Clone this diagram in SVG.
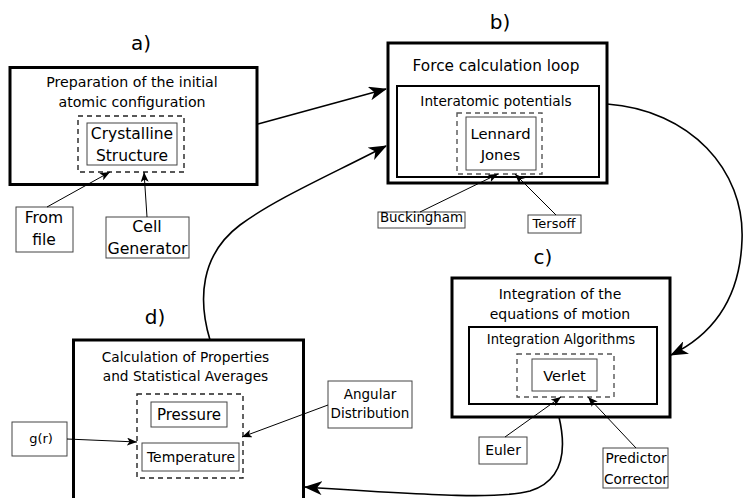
<svg xmlns="http://www.w3.org/2000/svg" width="743" height="498" viewBox="0 0 743 498" font-size="14">
<style>
text{font-family:"DejaVu Sans","Liberation Sans",sans-serif;fill:#000;text-anchor:middle}
.lbl{font-size:20px}
.outer{fill:none;stroke:#000;stroke-width:3}
.inner{fill:none;stroke:#000;stroke-width:2}
.dash{fill:none;stroke:#222;stroke-width:1.4;stroke-dasharray:5,4}
.dashg{fill:none;stroke:#555;stroke-width:1.4;stroke-dasharray:5,4}
.small{fill:#fff;stroke:#444;stroke-width:1}
.curve{fill:none;stroke:#000;stroke-width:1.6}
.thin{fill:none;stroke:#000;stroke-width:1}
</style>
<defs>
<marker id="big" viewBox="0 0 18 14" refX="17" refY="7" markerWidth="18" markerHeight="14" markerUnits="userSpaceOnUse" orient="auto">
<path d="M0,0 L18,7 L0,14 L5,7 z" fill="#000"/>
</marker>
<marker id="sm" viewBox="0 0 10 8" refX="10" refY="4" markerWidth="10" markerHeight="8" markerUnits="userSpaceOnUse" orient="auto">
<path d="M0,0 L10,4 L0,8 L2.5,4 z" fill="#000"/>
</marker>
</defs>

<g id="node-a">
<text class="lbl" x="141" y="50">a)</text>
<rect class="outer" x="10" y="67.5" width="247" height="117"/>
<text x="132" y="87" font-size="14.2">Preparation of the initial</text>
<text x="132" y="107" font-size="14.2">atomic configuration</text>
<rect class="dash" x="78" y="116" width="106" height="56"/>
<rect class="small" x="87" y="123" width="90" height="42"/>
<text x="132" y="139" font-size="15.5">Crystalline</text>
<text x="132" y="161" font-size="15.5">Structure</text>
</g>
<g id="node-fromfile">
<rect class="small" x="16" y="207" width="57" height="45"/>
<text x="44" y="223" font-size="15.5">From</text>
<text x="44" y="245" font-size="15.5">file</text>
</g>
<g id="node-cellgen">
<rect class="small" x="106" y="217" width="83" height="41"/>
<text x="147" y="232" font-size="15.8">Cell</text>
<text x="147.5" y="254" font-size="15.8">Generator</text>
</g>

<g id="node-b">
<text class="lbl" x="500" y="29">b)</text>
<rect class="outer" x="388" y="43" width="219" height="140"/>
<text x="496" y="71" font-size="15.3">Force calculation loop</text>
<rect class="inner" x="397" y="86" width="202" height="91"/>
<text x="496" y="106" font-size="13.7">Interatomic potentials</text>
<rect class="dashg" x="457" y="113" width="85" height="61"/>
<rect class="small" x="466" y="117" width="70" height="53"/>
<text x="500.5" y="139" font-size="14.8">Lennard</text>
<text x="500.5" y="160" font-size="14.8">Jones</text>
</g>
<g id="node-buckingham">
<rect class="small" x="378" y="212" width="87" height="16"/>
<text x="421.5" y="222" font-size="13.4">Buckingham</text>
</g>
<g id="node-tersoff">
<rect class="small" x="528" y="215" width="53" height="18"/>
<text x="554" y="228" font-size="13">Tersoff</text>
</g>

<g id="node-c">
<text class="lbl" x="543" y="264">c)</text>
<rect class="outer" x="452" y="278" width="218" height="139"/>
<text x="560" y="299">Integration of the</text>
<text x="560" y="319">equations of motion</text>
<rect class="inner" x="469" y="327" width="188" height="77"/>
<text x="561" y="344" font-size="13.2">Integration Algorithms</text>
<rect class="dashg" x="517" y="354" width="97" height="43"/>
<rect class="small" x="532" y="359" width="65" height="32"/>
<text x="564.5" y="381" font-size="14.6">Verlet</text>
</g>
<g id="node-euler">
<rect class="small" x="479" y="437" width="48" height="27"/>
<text x="503" y="455" font-size="13.9">Euler</text>
</g>
<g id="node-predictor">
<rect class="small" x="603" y="448" width="65" height="40"/>
<text x="636" y="463" font-size="13.7">Predictor</text>
<text x="636" y="484" font-size="13.7">Corrector</text>
</g>

<g id="node-d">
<text class="lbl" x="155" y="324">d)</text>
<rect class="outer" x="73.5" y="340" width="230" height="175"/>
<text x="185.5" y="362" font-size="13.7">Calculation of Properties</text>
<text x="185.5" y="381" font-size="13.7">and Statistical Averages</text>
<rect class="dash" x="137" y="394" width="106" height="84"/>
<rect class="small" x="151" y="402" width="76" height="25"/>
<text x="189" y="419.5" font-size="15">Pressure</text>
<rect class="small" x="142" y="443" width="97" height="28"/>
<text x="191" y="462" font-size="13.9">Temperature</text>
</g>
<g id="node-gr">
<rect class="small" x="12" y="422" width="55" height="34"/>
<text x="41" y="443" font-size="13">g(r)</text>
</g>
<g id="node-angular">
<rect class="small" x="328" y="381" width="84" height="47"/>
<text x="370" y="399" font-size="13.5">Angular</text>
<text x="370" y="418" font-size="13.5">Distribution</text>
</g>

<g id="connectors">
<path class="curve" d="M258,124 L386,89" marker-end="url(#big)"/>
<path class="curve" d="M210,340 C198,300 200,255 240,225 C275,199 330,175 386,146" marker-end="url(#big)"/>
<path class="curve" d="M607,104 C690,110 745,170 742,240 C740,300 712,335 671,355" marker-end="url(#big)"/>
<path class="curve" d="M559,417 C566,447 565,480 530,491 C500,499 440,496 305,487" marker-end="url(#big)"/>
<path class="thin" d="M47,207 L110,172" marker-end="url(#sm)"/>
<path class="thin" d="M147,217 L144,172" marker-end="url(#sm)"/>
<path class="thin" d="M420,212 L498,174" marker-end="url(#sm)"/>
<path class="thin" d="M556,215 L515,174" marker-end="url(#sm)"/>
<path class="thin" d="M505,437 L561,397" marker-end="url(#sm)"/>
<path class="thin" d="M636,448 L588,397" marker-end="url(#sm)"/>
<path class="thin" d="M67,439 L137,442" marker-end="url(#sm)"/>
<path class="thin" d="M328,405 L242,437" marker-end="url(#sm)"/>
</g>
</svg>
